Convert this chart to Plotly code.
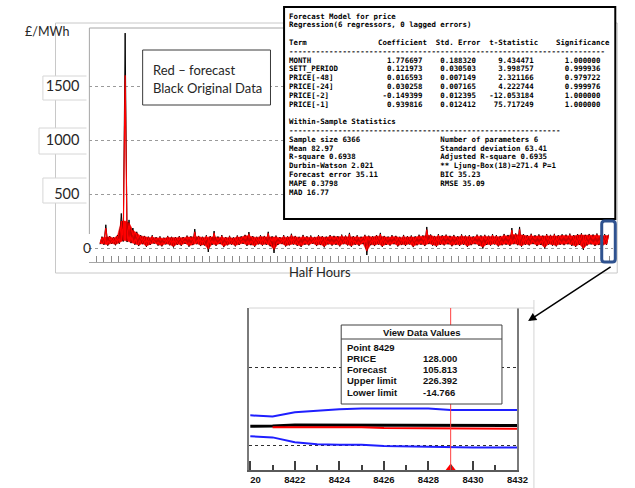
import plotly.graph_objects as go

W, H = 635, 488

def px(x):
    return x / W

def py(y):
    return 1 - y / H

# ---------------- main series (per 64-half-hour bin: low / high swing) ----------------
bin_width = 64
price_hi = [105, 215, 110, 98, 120, 320, 1990, 260, 185, 150,
            120, 112, 105, 118, 100, 108, 96, 112, 104, 99,
            110, 102, 115, 108, 176, 112, 104, 118, 110, 157,
            106, 120, 102, 113, 98, 116, 108, 122, 148, 110,
            104, 118, 112, 150, 108, 115, 101, 119, 107, 132,
            112, 104, 121, 109, 116, 103, 118, 111, 106, 120,
            113, 108, 124, 115, 140, 110, 118, 105, 122, 114,
            109, 120, 140, 112, 106, 119, 113, 104, 121, 110,
            116, 108, 123, 117, 195, 125, 112, 128, 118, 124,
            113, 121, 110, 126, 115, 119, 108, 124, 117, 122,
            114, 128, 119, 112, 130, 121, 185, 135, 195, 128,
            120, 132, 118, 126, 115, 129, 122, 131, 119, 127,
            124, 133, 120, 128, 136, 122, 130, 125, 134, 121,
            128, 124]
price_lo = [35, 30, 22, 38, 25, 40, 60, 55, 45, 30,
            18, 35, 10, 28, 40, 22, 15, 33, 25, 5,
            30, 20, 38, 12, 27, 35, 18, 24, -37, 30,
            20, 36, 8, 25, 32, 15, 28, 38, 20, 26,
            12, 34, 22, 30, 16, -46, 28, 36, 14, 25,
            32, 20, 10, 30, 24, 38, 18, 27, 6, 33,
            22, 29, 15, 35, 24, 12, 30, 20, 36, -65,
            26, 18, 32, 10, 28, 22, 35, 14, 27, 20,
            33, 8, 25, 30, 18, 36, 22, 12, 29, 24,
            34, 16, 27, 20, 31, 10, 26, 35, 19, -5,
            28, 22, 33, 14, 25, 30, 20, 35, 26, 12,
            30, 24, 36, 18, 28, -5, 32, 22, 15, 30,
            26, 34, 20, 10, 28, -18, 24, 33, 18, 27,
            22, 30]
forecast_hi = [98, 185, 104, 92, 112, 250, 1600, 235, 165, 140,
               112, 106, 98, 110, 94, 101, 90, 104, 97, 93,
               103, 96, 107, 101, 150, 105, 98, 110, 103, 140,
               99, 112, 96, 106, 92, 108, 101, 114, 132, 103,
               98, 110, 105, 135, 101, 108, 95, 111, 100, 122,
               105, 98, 113, 102, 108, 97, 110, 104, 99, 112,
               106, 101, 116, 108, 128, 103, 110, 99, 114, 107,
               102, 112, 128, 105, 100, 111, 106, 98, 113, 103,
               108, 101, 115, 109, 170, 117, 105, 120, 110, 116,
               106, 113, 103, 118, 108, 111, 101, 116, 109, 114,
               107, 120, 111, 105, 122, 113, 165, 126, 172, 120,
               112, 124, 110, 118, 108, 121, 114, 123, 111, 119,
               116, 125, 112, 120, 127, 114, 122, 117, 126, 113,
               120, 116]
forecast_lo = [42, 38, 30, 44, 33, 48, 70, 64, 52, 38,
               26, 42, 18, 35, 46, 30, 23, 40, 32, 14,
               37, 28, 44, 20, 34, 41, 26, 31, -10, 37,
               28, 42, 16, 32, 38, 23, 35, 44, 28, 33,
               20, 40, 30, 37, 24, -15, 35, 42, 22, 32,
               38, 28, 18, 37, 31, 44, 26, 34, 14, 39,
               30, 36, 23, 41, 31, 20, 37, 28, 42, -30,
               33, 26, 38, 18, 35, 30, 41, 22, 34, 28,
               39, 16, 32, 37, 26, 42, 30, 20, 36, 31,
               40, 24, 34, 28, 38, 18, 33, 41, 27, 8,
               35, 30, 39, 22, 32, 37, 28, 41, 33, 20,
               37, 31, 42, 26, 35, 5, 38, 30, 23, 37,
               33, 40, 28, 18, 35, -5, 31, 39, 26, 34,
               30, 37]

y_tick_vals = [0, 500, 1000, 1500]
y_tick_text = ["", "500", "1000", "1500"]


def zigzag(lo, hi):
    xs, ys = [], []
    for i, (a, b) in enumerate(zip(lo, hi)):
        xs += [i * bin_width, i * bin_width + bin_width / 2]
        ys += [a, b]
    return xs, ys


def despike(vals):
    # body of the band: each bin limited by its taller neighbour, so single spikes stay thin lines
    out = []
    for i, v in enumerate(vals):
        nbr = [vals[j] for j in (i - 1, i + 1) if 0 <= j < len(vals)]
        out.append(min(v, max(nbr)))
    return out

# ---------------- inset (zoomed last points) ----------------
inset_x = [8420, 8421, 8422, 8423, 8424, 8425, 8426, 8427, 8428, 8429, 8430, 8431, 8432]
inset_price = [122, 123, 129, 129, 129, 129, 129, 129, 126, 128, 126, 126, 126]
inset_fc_x = [8421, 8422, 8423, 8424, 8425, 8426, 8427, 8428, 8429, 8430, 8431, 8432]
inset_forecast = [116, 116, 116, 116, 116, 110, 110, 110, 105.813, 106, 106, 106]
inset_upper = [192, 184, 212, 222, 231, 236, 236, 236, 236, 226.392, 226, 226, 226]
inset_lower = [57, 50, 18, 5, 3, 3, -5, -8, -10, -14.766, -15, -15, -15]
inset_tick_vals = [8420, 8422, 8424, 8426, 8428, 8430, 8432]
inset_tick_text = ["\u2007\u200720", "8422", "8424", "8426", "8428", "8430", "8432"]
point_sel = 8429

fig = go.Figure()

lo_x = [i * bin_width for i in range(len(forecast_lo))]
hi_x = [i * bin_width + bin_width / 2 for i in range(len(forecast_hi))]
# solid forecast band body
fig.add_trace(go.Scatter(x=lo_x, y=forecast_lo, mode="lines", line=dict(color="#ff0000", width=0.5),
                         xaxis="x", yaxis="y", showlegend=False, hoverinfo="skip"))
fig.add_trace(go.Scatter(x=hi_x, y=despike(forecast_hi), mode="lines", line=dict(color="#ff0000", width=0.5),
                         fill="tonexty", fillcolor="#ff0000",
                         xaxis="x", yaxis="y", showlegend=False, hoverinfo="skip"))
bx, by = zigzag(price_lo, price_hi)
rx, ry = zigzag(forecast_lo, forecast_hi)
fig.add_trace(go.Scatter(x=bx, y=by, mode="lines", line=dict(color="#000000", width=1),
                         xaxis="x", yaxis="y", showlegend=False, hoverinfo="skip"))
fig.add_trace(go.Scatter(x=rx, y=ry, mode="lines", line=dict(color="#ff0000", width=1.2),
                         xaxis="x", yaxis="y", showlegend=False, hoverinfo="skip"))

fig.add_trace(go.Scatter(x=inset_x, y=inset_upper, mode="lines", line=dict(color="#1f1fff", width=2),
                         xaxis="x2", yaxis="y2", showlegend=False))
fig.add_trace(go.Scatter(x=inset_x, y=inset_lower, mode="lines", line=dict(color="#1f1fff", width=2),
                         xaxis="x2", yaxis="y2", showlegend=False))
fig.add_trace(go.Scatter(x=inset_x, y=inset_price, mode="lines", line=dict(color="#000000", width=3),
                         xaxis="x2", yaxis="y2", showlegend=False))
fig.add_trace(go.Scatter(x=inset_fc_x, y=inset_forecast, mode="lines", line=dict(color="#ff0000", width=2),
                         xaxis="x2", yaxis="y2", showlegend=False))
fig.add_trace(go.Scatter(x=[point_sel], y=[-147], mode="markers",
                         marker=dict(symbol="triangle-up", size=9, color="#ff0000"),
                         xaxis="x2", yaxis="y2", showlegend=False, cliponaxis=False))

shapes = []
# outer slide frame
shapes.append(dict(type="rect", xref="paper", yref="paper", x0=px(48), x1=px(628), y0=py(273), y1=py(23),
                   line=dict(color="#c8c8c8", width=1), layer="below"))
# label boxes on left
for (top, bot, left) in [(76, 100, 35), (128, 154, 31), (178, 203, 35)]:
    path = f"M {px(80)},{py(top)} L {px(left)},{py(top)} L {px(left)},{py(bot)} L {px(80)},{py(bot)}"
    shapes.append(dict(type="path", xref="paper", yref="paper", path=path,
                       line=dict(color="#d6d6d6", width=1), fillcolor="white", layer="below"))
# plot area left and top lines
shapes.append(dict(type="line", xref="paper", yref="paper", x0=px(83), x1=px(83), y0=py(234), y1=py(28),
                   line=dict(color="#a6a6a6", width=1)))
shapes.append(dict(type="line", xref="paper", yref="paper", x0=px(83), x1=px(284), y0=py(28), y1=py(28),
                   line=dict(color="#a6a6a6", width=1)))
# legend text box
shapes.append(dict(type="rect", xref="paper", yref="paper", x0=px(138), x1=px(270), y0=py(105), y1=py(50),
                   line=dict(color="#3a3a3a", width=1), fillcolor="white", layer="above"))
# regression output box
shapes.append(dict(type="rect", xref="paper", yref="paper", x0=px(284), x1=px(626), y0=py(219), y1=py(7),
                   line=dict(color="#000000", width=2), fillcolor="white", layer="above"))
# blue rounded highlight
x0, x1, y0, y1, r = 612, 626, 221, 262, 3
path = (f"M {px(x0+r)},{py(y0)} L {px(x1-r)},{py(y0)} Q {px(x1)},{py(y0)} {px(x1)},{py(y0+r)} "
        f"L {px(x1)},{py(y1-r)} Q {px(x1)},{py(y1)} {px(x1-r)},{py(y1)} "
        f"L {px(x0+r)},{py(y1)} Q {px(x0)},{py(y1)} {px(x0)},{py(y1-r)} "
        f"L {px(x0)},{py(y0+r)} Q {px(x0)},{py(y0)} {px(x0+r)},{py(y0)} Z")
shapes.append(dict(type="path", xref="paper", yref="paper", path=path,
                   line=dict(color="#2f528f", width=3), layer="above"))
# inset frame bits
shapes.append(dict(type="line", xref="paper", yref="paper", x0=px(248), x1=px(542), y0=py(308), y1=py(308),
                   line=dict(color="#d4d4d4", width=1)))
shapes.append(dict(type="line", xref="paper", yref="paper", x0=px(542), x1=px(542), y0=py(300), y1=py(488),
                   line=dict(color="#d4d4d4", width=1)))
# selected point cursor line
shapes.append(dict(type="line", xref="x2", yref="y2 domain", x0=point_sel, x1=point_sel, y0=0, y1=1,
                   line=dict(color="#ff4040", width=1), layer="above"))
# View Data Values box
shapes.append(dict(type="rect", xref="paper", yref="paper", x0=px(343), x1=px(509), y0=py(404), y1=py(325),
                   line=dict(color="#404040", width=1), fillcolor="white", layer="above"))
shapes.append(dict(type="line", xref="paper", yref="paper", x0=px(343), x1=px(509), y0=py(339), y1=py(339),
                   line=dict(color="#404040", width=1), layer="above"))

annotations = []
mono = dict(family="DejaVu Sans Mono", size=7.4, color="#000000")

def nb(s):
    return s.replace(" ", "\u00a0")

terms = ["MONTH", "SETT_PERIOD", "PRICE[-48]", "PRICE[-24]", "PRICE[-2]", "PRICE[-1]"]
coefs = ["1.776697", "0.121973", "0.016593", "0.030258", "-0.149399", "0.939816"]
stderrs = ["0.188320", "0.030503", "0.007149", "0.007165", "0.012395", "0.012412"]
tstats = ["9.434471", "3.998757", "2.321166", "4.222744", "-12.053184", "75.717249"]
signifs = ["1.000000", "0.999936", "0.979722", "0.999976", "1.000000", "1.000000"]
stats_left = ["Sample size 6366", "Mean 82.97", "R-square 0.6938", "Durbin-Watson 2.021",
              "Forecast error 35.11", "MAPE 0.3798", "MAD 16.77"]
stats_right = ["Number of parameters 6", "Standard deviation 63.41", "Adjusted R-square 0.6935",
               "** Ljung-Box(18)=271.4 P=1", "BIC 35.23", "RMSE 35.09", ""]

lines = [(16, "Forecast Model for price"),
         (24.8, "Regression(6 regressors, 0 lagged errors)"),
         (42.4, "Term".ljust(20) + "Coefficient" + "  " + "Std. Error" + "  " + "t-Statistic" + "    " + "Significance"),
         (51.2, "-" * 71)]
for k in range(len(terms)):
    row = terms[k].ljust(21) + coefs[k].rjust(9) + stderrs[k].rjust(12) + tstats[k].rjust(13) + signifs[k].rjust(15)
    lines.append((60 + 8.8 * k, row))
lines.append((121.6, "Within-Sample Statistics"))
lines.append((130.4, "-" * 61))
for k in range(len(stats_left)):
    lines.append((139.2 + 8.8 * k, stats_left[k].ljust(34) + stats_right[k]))
for yy, txt in lines:
    annotations.append(dict(xref="paper", yref="paper", x=px(287), y=py(yy), xanchor="left", yanchor="middle",
                            text="<b>" + nb(txt) + "</b>", showarrow=False, font=mono))

sans = dict(family="Lato", color="#262626")
annotations += [
    dict(xref="paper", yref="paper", x=px(14), y=py(32), xanchor="left", yanchor="middle",
         text="£/MWh", showarrow=False, font=dict(sans, size=12.5)),
    dict(xref="paper", yref="y", x=px(81), y=0, xanchor="center", yanchor="middle",
         text="0", showarrow=False, font=dict(sans, size=14)),
    dict(xref="paper", yref="paper", x=px(147), y=py(70), xanchor="left", yanchor="middle",
         text="Red – forecast", showarrow=False, font=dict(sans, size=13)),
    dict(xref="paper", yref="paper", x=px(147), y=py(88), xanchor="left", yanchor="middle",
         text="Black Original Data", showarrow=False, font=dict(sans, size=13)),
    dict(xref="paper", yref="paper", x=px(321), y=py(272), xanchor="center", yanchor="middle",
         text="Half Hours", showarrow=False, font=dict(sans, size=13)),
    dict(xref="paper", yref="paper", x=px(536), y=py(321), ax=84, ay=-55, text="", showarrow=True,
         arrowhead=2, arrowsize=1.1, arrowwidth=1.5, arrowcolor="#000000"),
]

box_font = dict(family="Liberation Sans", size=9.5, color="#111111", weight="bold")
annotations.append(dict(xref="paper", yref="paper", x=px(426), y=py(332.5), xanchor="center", yanchor="middle",
                        text="View Data Values", showarrow=False, font=box_font))
box_labels = ["Point 8429", "PRICE", "Forecast", "Upper limit", "Lower limit"]
box_values = ["", "128.000", "105.813", "226.392", "-14.766"]
for k, (lab, val) in enumerate(zip(box_labels, box_values)):
    yy = 347.3 + 11.2 * k
    annotations.append(dict(xref="paper", yref="paper", x=px(347), y=py(yy), xanchor="left", yanchor="middle",
                            text=lab, showarrow=False, font=box_font))
    if val:
        annotations.append(dict(xref="paper", yref="paper", x=px(425.5), y=py(yy), xanchor="left", yanchor="middle",
                                text=val, showarrow=False, font=box_font))

fig.update_layout(
    width=W, height=H, margin=dict(l=0, r=0, t=0, b=0),
    paper_bgcolor="white", plot_bgcolor="white", showlegend=False,
    xaxis=dict(domain=[px(83), px(624)], range=[-176, 8496], anchor="y",
               showline=True, linecolor="#a6a6a6", linewidth=1,
               ticks="inside", ticklen=6, tickcolor="#8c8c8c", tickwidth=1,
               tickmode="linear", tick0=64, dtick=125, showticklabels=False,
               showgrid=False, zeroline=False),
    yaxis=dict(domain=[py(262), py(28)], range=[-129.6, 2037], anchor="x",
               tickmode="array", tickvals=y_tick_vals, ticktext=y_tick_text,
               showgrid=True, griddash="dot", gridcolor="#9a9a9a", gridwidth=1,
               showline=False, zeroline=False, ticks="", ticklabelstandoff=9,
               tickfont=dict(family="Lato", size=14.5, color="#262626")),
    xaxis2=dict(domain=[px(248), px(525)], range=[8419.95, 8432], anchor="y2",
                showline=True, linecolor="#5a5a5a", linewidth=2,
                ticks="inside", ticklen=9, tickwidth=1.5, tickcolor="#404040",
                tickmode="array", tickvals=inset_tick_vals, ticktext=inset_tick_text,
                tickfont=dict(family="Liberation Sans", size=9.5, color="#111111", weight="bold"),
                minor=dict(ticks="inside", ticklen=5, tickwidth=1.5, tickcolor="#404040", dtick=1,
                           tick0=8421, showgrid=False),
                showgrid=False, zeroline=False),
    yaxis2=dict(domain=[py(470), py(308)], range=[-160, 883], anchor="x2",
                tickmode="array", tickvals=[0, 500], showticklabels=False, ticks="",
                showgrid=True, griddash="dot", gridcolor="#303030", gridwidth=1,
                showline=True, linecolor="#7a7a7a", linewidth=2, mirror=True, zeroline=False),
    shapes=shapes, annotations=annotations,
)

fig.write_html("out.html")
